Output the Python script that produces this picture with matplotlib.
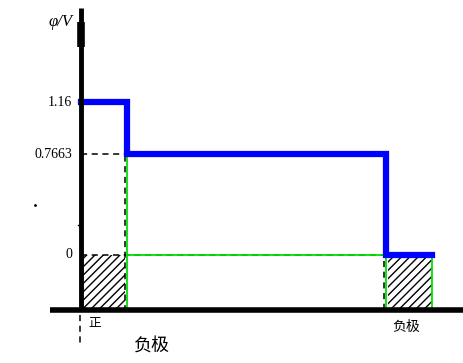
import matplotlib
matplotlib.use("Agg")
import matplotlib.pyplot as plt

plt.rcParams['font.family'] = ['Liberation Serif', 'Noto Sans CJK SC', 'DejaVu Sans']

# potential levels (V) and positions along the cell (arbitrary units)
levels = [1.16, 0.7663, 0.0]
level_labels = ["1.16", "0.7663", "0"]
edges = [0, 46, 305, 351]   # y-axis, end of positive electrode, start/end of negative electrode
y_base = -0.418            # where the horizontal axis sits

fig = plt.figure(figsize=(4.64, 3.63), dpi=100)
ax = fig.add_axes([0, 0, 1, 1])
ax.set_xlim(-81, 383)
ax.set_ylim(-0.821, 1.938)
ax.axis('off')

# hatched regions under 0 V
ax.fill_between([edges[0], edges[1] - 2], y_base, levels[2], facecolor='none',
                edgecolor='black', hatch='////', linewidth=0)
ax.fill_between([edges[2] + 2, edges[3]], y_base, levels[2], facecolor='none',
                edgecolor='black', hatch='////', linewidth=0)

# dashed guides
ax.plot([edges[0], edges[1]], [levels[1], levels[1]], 'k--', lw=1.1, dashes=(4, 3))
ax.plot([edges[1] - 2, edges[1] - 2], [levels[0], y_base], 'k--', lw=1.1, dashes=(4, 3))
ax.plot([edges[0], edges[2]], [levels[2], levels[2]], 'k--', lw=1.1, dashes=(4, 3))
ax.plot([edges[2] - 2, edges[2] - 2], [levels[1], y_base], 'k--', lw=1.1, dashes=(4, 3))
ax.plot([-1, -1], [y_base - 0.04, y_base - 0.27], 'k--', lw=1.1, dashes=(4, 3))

# green boundaries
ax.plot([edges[1], edges[1]], [levels[1], y_base], color='#00e000', lw=1.3)
ax.plot([edges[1], edges[2]], [levels[2], levels[2]], color='#00e000', lw=1.3)
ax.plot([edges[2], edges[2]], [levels[2], y_base], color='#00e000', lw=1.3)
ax.plot([edges[3], edges[3]], [levels[2], y_base], color='#00e000', lw=1.3)

# potential profile
xs = [edges[0], edges[1], edges[1], edges[2], edges[2], edges[3]]
ys = [levels[0], levels[0], levels[1], levels[1], levels[2], levels[2]]
ax.plot(xs, ys, color='black', lw=1.5)
ax.plot(xs, ys, color='#0000ff', lw=4.5, solid_joinstyle='miter')

# axes
ax.plot([0, 0], [y_base, 1.88], color='black', lw=3.5, solid_capstyle='butt')
ax.plot([0.5, 0.5], [1.58, 1.77], color='black', lw=5.5, solid_capstyle='butt')
ax.plot([-31, 383], [y_base, y_base], color='black', lw=4, solid_capstyle='butt')
ax.plot([-3, 0], [0.23, 0.23], color='black', lw=1)

# labels
ax.text(-8, 1.77, "φ/V", ha='right', va='center', fontsize=12, style='italic')
for v, lab in zip(levels, level_labels):
    ax.text(-9, v, lab, ha='right', va='center', fontsize=10)
ax.text(14, y_base - 0.11, "正", ha='center', va='center', fontsize=9)
ax.text(71, y_base - 0.27, "负极", ha='center', va='center', fontsize=13,
        family=['Noto Sans CJK SC'])
ax.text(325, y_base - 0.13, "负极", ha='center', va='center', fontsize=10,
        family=['Noto Sans CJK SC'])
ax.plot([-46], [0.38], 'k.', ms=2)

fig.savefig("out.png", dpi=100)
